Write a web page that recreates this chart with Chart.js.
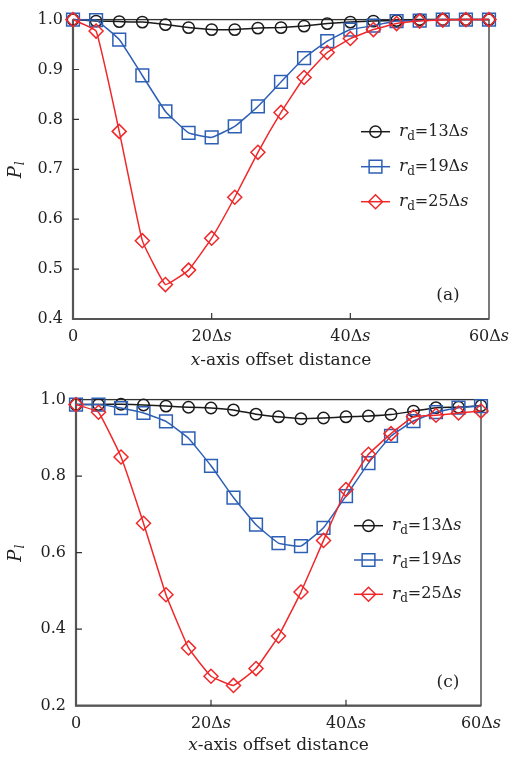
<!DOCTYPE html>
<html>
<head>
<meta charset="utf-8">
<script src="https://cdn.jsdelivr.net/npm/chart.js@4.4.1/dist/chart.umd.min.js"></script>
<style>
  html, body { margin: 0; padding: 0; background: #fff; }
  .panel { position: absolute; left: 0; width: 512px; height: 380px; }
  #panelA { top: 0; }
  #panelC { top: 380px; }
</style>
</head>
<body>
<div class="panel" id="panelA"><canvas id="chartA" width="512" height="380"></canvas></div>
<div class="panel" id="panelC"><canvas id="chartC" width="512" height="380"></canvas></div>
<script>
// x-axis offset (in Δs), 19 sample positions
const offsets = [0, 3.33, 6.67, 10, 13.33, 16.67, 20, 23.33, 26.67, 30, 33.33, 36.67, 40, 43.33, 46.67, 50, 53.33, 56.67, 60];
const radii = ["13", "19", "25"];
const xTicks = [0, 20, 40, 60];

// panel (a)
const a13 = [1.0, 0.997, 0.996, 0.995, 0.990, 0.984, 0.980, 0.980, 0.983, 0.984, 0.987, 0.992, 0.995, 0.997, 0.998, 1.0, 1.0, 1.0, 1.0];
const a19 = [1.0, 0.999, 0.960, 0.888, 0.816, 0.773, 0.764, 0.786, 0.826, 0.875, 0.923, 0.957, 0.980, 0.988, 0.997, 0.998, 1.0, 1.0, 1.0];
const a25 = [1.0, 0.977, 0.776, 0.557, 0.469, 0.498, 0.562, 0.644, 0.734, 0.814, 0.884, 0.934, 0.962, 0.980, 0.992, 0.997, 0.999, 1.0, 1.0];

// panel (c)
const c13 = [0.987, 0.987, 0.988, 0.986, 0.983, 0.980, 0.978, 0.973, 0.962, 0.955, 0.950, 0.952, 0.955, 0.957, 0.961, 0.970, 0.979, 0.980, 0.984];
const c19 = [0.987, 0.987, 0.978, 0.965, 0.943, 0.899, 0.827, 0.744, 0.673, 0.625, 0.617, 0.665, 0.748, 0.834, 0.905, 0.944, 0.967, 0.979, 0.983];
const c25 = [0.987, 0.967, 0.850, 0.677, 0.490, 0.351, 0.277, 0.253, 0.297, 0.382, 0.497, 0.632, 0.765, 0.857, 0.911, 0.955, 0.959, 0.965, 0.970];

const SERIF = "'DejaVu Serif', 'Liberation Serif', serif";
const colors = ["#1a1a1a", "#2d5fb5", "#f0282a"];
const markers = ["circle", "rect", "rectRot"];
const markerR = [5.7, 9, 7];

function pts(ys) { return ys.map((y, i) => ({ x: offsets[i], y })); }

function makeDatasets(series) {
    return series.map((ys, k) => ({
        label: radii[k],
        data: pts(ys),
        borderColor: colors[k],
        backgroundColor: "rgba(0,0,0,0)",
        borderWidth: 1.5,
        pointStyle: markers[k],
        pointRadius: markerR[k],
        pointBorderWidth: 1.5,
        pointBorderColor: colors[k],
        pointBackgroundColor: "rgba(0,0,0,0)",
        tension: 0.1,
        clip: false,
        order: 3 - k
    }));
}

// number followed by Δ and italic s
function drawDs(ctx, x, y, num, size, align) {
    ctx.font = size + "px " + SERIF;
    const head = num + "Δ";
    const w1 = ctx.measureText(head).width;
    ctx.font = "italic " + size + "px " + SERIF;
    const w2 = ctx.measureText("s").width;
    let sx = align === "center" ? x - (w1 + w2) / 2 : x;
    ctx.textAlign = "left";
    ctx.font = size + "px " + SERIF;
    ctx.fillText(head, sx, y);
    ctx.font = "italic " + size + "px " + SERIF;
    ctx.fillText("s", sx + w1, y);
}

// r_d=NNΔs with italic r, subscript d, italic s
function drawRd(ctx, x, y, num) {
    ctx.textBaseline = "middle";
    ctx.textAlign = "left";
    ctx.fillStyle = "#222";
    ctx.font = "italic 17px " + SERIF;
    ctx.fillText("r", x, y);
    x += ctx.measureText("r").width;
    ctx.font = "12px " + SERIF;
    ctx.fillText("d", x, y + 5);
    x += ctx.measureText("d").width;
    ctx.font = "16px " + SERIF;
    ctx.fillText("=", x, y);
    x += ctx.measureText("=").width;
    drawDs(ctx, x, y, num, 16, "left");
}

const decor = {
    id: "decor",
    beforeDatasetsDraw(chart) {
        const { ctx, chartArea: a, scales } = chart;
        ctx.save();
        ctx.strokeStyle = "#333";
        ctx.lineWidth = 1.3;
        ctx.strokeRect(a.left, a.top, a.right - a.left, a.bottom - a.top);
        ctx.strokeStyle = "#555";
        ctx.lineWidth = 2.2;
        ctx.beginPath();
        ctx.moveTo(a.left, a.top);
        ctx.lineTo(a.left, a.bottom);
        ctx.lineTo(a.right, a.bottom);
        ctx.stroke();
        // inward ticks
        ctx.strokeStyle = "#333";
        ctx.lineWidth = 1.2;
        ctx.beginPath();
        scales.x.ticks.forEach(t => {
            const px = scales.x.getPixelForValue(t.value);
            if (px <= a.left + 1 || px >= a.right - 1) return;
            ctx.moveTo(px, a.bottom);
            ctx.lineTo(px, a.bottom - 6);
        });
        scales.y.ticks.forEach(t => {
            const py = scales.y.getPixelForValue(t.value);
            if (py <= a.top + 1 || py >= a.bottom - 1) return;
            ctx.moveTo(a.left, py);
            ctx.lineTo(a.left + 6, py);
        });
        ctx.stroke();
        ctx.restore();
    },
    afterDraw(chart, args, opts) {
        const { ctx, chartArea: a, scales } = chart;
        ctx.save();
        ctx.fillStyle = "#222";
        ctx.textBaseline = "middle";
        // x tick labels with italic s
        scales.x.ticks.forEach(t => {
            const px = scales.x.getPixelForValue(t.value);
            const py = a.bottom + 18;
            if (t.value === 0) {
                ctx.font = "16px " + SERIF;
                ctx.textAlign = "center";
                ctx.fillText("0", px, py);
            } else {
                drawDs(ctx, px, py, String(t.value), 16, "center");
            }
        });
        // legend
        chart.data.datasets.forEach((ds, k) => {
            const y = opts.legendY + k * opts.legendGap;
            const x0 = opts.legendX, x1 = x0 + 29;
            ctx.strokeStyle = ds.borderColor;
            ctx.fillStyle = "rgba(0,0,0,0)";
            ctx.lineWidth = 1.5;
            ctx.beginPath();
            ctx.moveTo(x0, y);
            ctx.lineTo(x1, y);
            ctx.stroke();
            Chart.helpers.drawPoint(ctx, { pointStyle: ds.pointStyle, radius: ds.pointRadius, borderWidth: 1.5 }, (x0 + x1) / 2, y);
            drawRd(ctx, x1 + 9, y, ds.label);
        });
        // panel label
        ctx.fillStyle = "#222";
        ctx.font = "17px " + SERIF;
        ctx.textAlign = "center";
        ctx.fillText(opts.panel, a.right - opts.panelDx, a.bottom - 23);
        // x-axis title: italic x + "-axis offset distance"
        const t1 = "x", t2 = "-axis offset distance";
        ctx.font = "italic 17px " + SERIF;
        const w1 = ctx.measureText(t1).width;
        ctx.font = "17px " + SERIF;
        const w2 = ctx.measureText(t2).width;
        const tx = (a.left + a.right) / 2 - (w1 + w2) / 2;
        const ty = a.bottom + opts.titleDy;
        ctx.textAlign = "left";
        ctx.font = "italic 17px " + SERIF;
        ctx.fillText(t1, tx, ty);
        ctx.font = "17px " + SERIF;
        ctx.fillText(t2, tx + w1, ty);
        // y-axis title: P_l rotated
        ctx.translate(16, (a.top + a.bottom) / 2);
        ctx.rotate(-Math.PI / 2);
        ctx.font = "italic 18px " + SERIF;
        const wp = ctx.measureText("P").width;
        ctx.fillText("P", -wp / 2 - 3, 0);
        ctx.font = "italic 12px " + SERIF;
        ctx.fillText("l", wp / 2 - 2, 5);
        ctx.restore();
    }
};

function build(canvasId, series, yMin, yStep, pad, yWidth, xHeight, deco) {
    new Chart(document.getElementById(canvasId), {
        type: "line",
        data: { datasets: makeDatasets(series) },
        plugins: [decor],
        options: {
            responsive: false,
            animation: false,
            layout: { padding: pad },
            plugins: {
                legend: { display: false },
                tooltip: { enabled: false },
                decor: deco
            },
            scales: {
                x: {
                    type: "linear",
                    min: 0, max: 60,
                    afterBuildTicks: s => { s.ticks = xTicks.map(v => ({ value: v })); },
                    afterFit: s => { s.height = xHeight; },
                    grid: { display: false, drawTicks: false },
                    border: { display: false },
                    ticks: { display: false }
                },
                y: {
                    min: yMin, max: 1.0,
                    afterFit: s => { s.width = yWidth; },
                    grid: { display: false, drawTicks: false },
                    border: { display: false },
                    ticks: {
                        stepSize: yStep,
                        padding: 10,
                        color: "#222",
                        font: { family: SERIF, size: 16 },
                        callback: v => v.toFixed(1)
                    }
                }
            }
        }
    });
}

build("chartA", [a13, a19, a25], 0.4, 0.1,
    { left: 0, top: 14, right: 23, bottom: 0 }, 73, 61,
    { legendX: 361, legendY: 131.7, legendGap: 35, panel: "(a)", panelDx: 41, titleDy: 42 });

build("chartC", [c13, c19, c25], 0.2, 0.2,
    { left: 0, top: 15.7, right: 31, bottom: 0 }, 76, 54.3,
    { legendX: 354, legendY: 145.7, legendGap: 34.3, panel: "(c)", panelDx: 33, titleDy: 40 });
</script>
</body>
</html>
